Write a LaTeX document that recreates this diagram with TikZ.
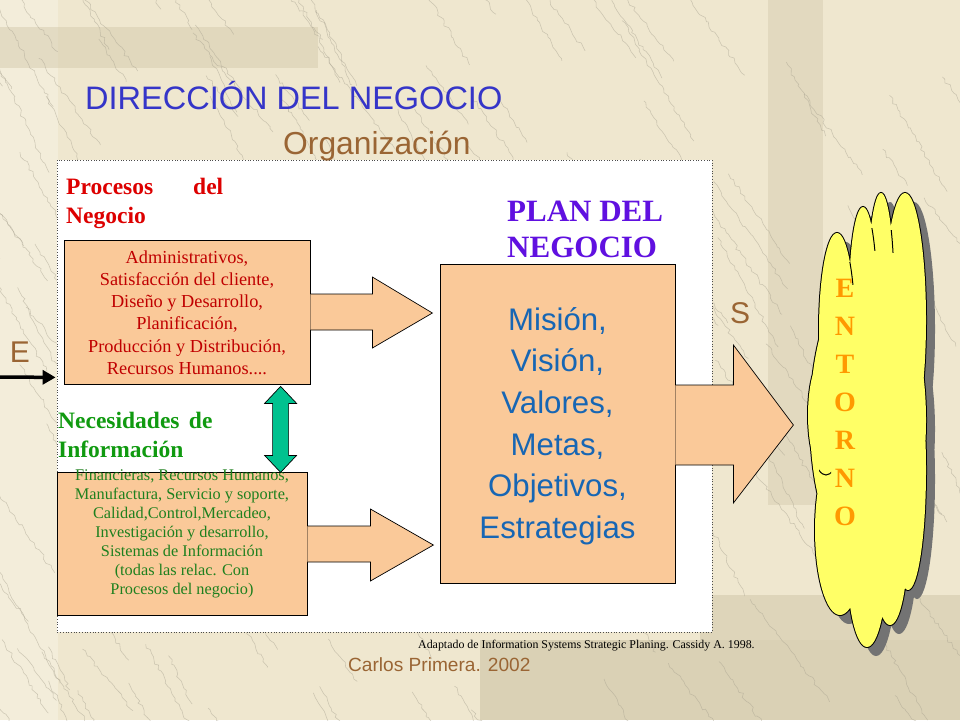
\documentclass[tikz,border=0pt]{standalone}
\usepackage{fontspec}
\setmainfont{Liberation Serif}
\newfontfamily\sansf{Liberation Sans}
\usetikzlibrary{calc,arrows.meta,decorations.pathmorphing}
\definecolor{bgbeige}{HTML}{EFE7CF}
\definecolor{bgdark}{HTML}{D4CAAD}
\definecolor{bglight}{HTML}{F5F0DF}
\definecolor{titleblue}{HTML}{3535C8}
\definecolor{brownt}{HTML}{9A6534}
\definecolor{procred}{HTML}{DD0000}
\definecolor{boxred}{HTML}{C00000}
\definecolor{needgreen}{HTML}{109A10}
\definecolor{boxgreen}{HTML}{1E801E}
\definecolor{planpurple}{HTML}{6010E0}
\definecolor{planblue}{HTML}{1766B4}
\definecolor{peach}{HTML}{FAC999}
\definecolor{teal}{HTML}{00C28F}
\definecolor{cloudy}{HTML}{FFFF66}
\definecolor{orangeE}{HTML}{FF9900}
\definecolor{crackc}{HTML}{A8A290}
\tikzset{
  pbox/.style={draw=black, line width=0.8pt, fill=peach, inner sep=0pt},
  parrow/.style={draw=black, line width=0.7pt, fill=peach},
  lbl/.style={inner sep=0pt},
  cloudline/.style={black, line width=1pt},
  crack/.style={crackc, opacity=0.5, line width=0.55pt, decorate, decoration={random steps, segment length=4pt, amplitude=1.8pt}},
}
\begin{document}
\begin{tikzpicture}[x=1pt,y=-1pt]
\useasboundingbox (0,0) rectangle (960,720);
% background
\fill[bgbeige] (0,0) rectangle (960,720);
\fill[bglight,opacity=0.7] (0,0) rectangle (58,720);
\fill[bgdark,opacity=0.5] (0,27) rectangle (318,68);
\fill[bgdark,opacity=0.45] (768,0) rectangle (823,505);
\fill[bgdark,opacity=0.6] (700,595) rectangle (960,640);
\fill[bgdark,opacity=0.75] (480,640) rectangle (960,720);
\pgfmathsetseed{11}
\foreach \k in {1,...,190}{
  \pgfmathsetmacro\sx{rnd*1100-120}
  \pgfmathsetmacro\sy{rnd*780-60}
  \pgfmathsetmacro\ln{40+rnd*110}
  \pgfmathsetmacro\ang{-50-rnd*15}
  \draw[crack] (\sx,\sy) -- ++(\ang:\ln pt);
}
% panel
\fill[white] (57,160) rectangle (712,632);
\draw[gray!60!black, dotted, line width=0.7pt] (57,160) rectangle (712,632);
% titles
\node[lbl, anchor=base west, text=titleblue, font=\sansf\fontsize{32.5}{38}\selectfont] (title) at (85,109) {DIRECCIÓN DEL NEGOCIO};
\node[lbl, anchor=base west, text=brownt, font=\sansf\fontsize{31.8}{38}\selectfont] (org) at (283,154) {Organización};
% headings
\node[lbl, anchor=north west, align=left, text=procred, font=\bfseries\fontsize{23.5}{29}\selectfont] (proc) at (66,178) {\makebox[127pt][l]{Procesos}del\\Negocio};
\node[lbl, anchor=west, align=left, text=needgreen, font=\bfseries\fontsize{23.5}{29}\selectfont] (need) at (58,435) {Necesidades\hspace{0.4em}de\\Información};
\node[lbl, anchor=west, align=left, text=planpurple, font=\bfseries\fontsize{31}{36}\selectfont] (plantitle) at (507,229) {PLAN DEL\\NEGOCIO};
% boxes
\node[pbox, minimum width=246pt, minimum height=144pt] (box1) at (187,312) {};
\node[lbl, align=center, text=boxred, font=\fontsize{18.3}{22.2}\selectfont] (t1) at (187,312.5) {Administrativos,\\Satisfacción del cliente,\\Diseño y Desarrollo,\\Planificación,\\Producción y Distribución,\\Recursos Humanos....};
\node[pbox, minimum width=250pt, minimum height=143pt] (box2) at (182,543.5) {};
\node[lbl, align=center, text=boxgreen, font=\fontsize{16.3}{19}\selectfont] (t2) at (182,534) {Financieras, Recursos Humanos,\\Manufactura, Servicio y soporte,\\Calidad,Control,Mercadeo,\\Investigación y desarrollo,\\Sistemas de Información\\(todas las relac. Con\\Procesos del negocio)};
\node[pbox, minimum width=235pt, minimum height=319pt] (plan) at (557.5,423.5) {};
\node[lbl, align=center, text=planblue, font=\sansf\fontsize{31.2}{41.6}\selectfont] (t3) at (557.5,426) {Misión,\\Visión,\\Valores,\\Metas,\\Objetivos,\\Estrategias};
% arrows
\filldraw[parrow] ($(box1.east)+(0,-18)$) -- ++(62,0) -- ++(0,-17) -- ++(60,36) -- ++(-60,35) -- ++(0,-18) -- ++(-62,0);
\filldraw[parrow] ($(box2.east)+(0,-17.5)$) -- ++(63,0) -- ++(0,-17) -- ++(63,36) -- ++(-63,36) -- ++(0,-19) -- ++(-63,0);
\filldraw[parrow] ($(plan.east)+(0,-38.5)$) -- ++(58,0) -- ++(0,-40) -- ++(60,80) -- ++(-60,78) -- ++(0,-38) -- ++(-58,0);
\coordinate (dt) at ($(box1.south west)+(217,2)$);
\filldraw[draw=black, line width=0.7pt, fill=teal] (dt) -- ++(16,17) -- ++(-8,0) -- ++(0,52) -- ++(8,0) -- ++(-16,17) -- ++(-16,-17) -- ++(8,0) -- ++(0,-52) -- ++(-8,0) -- cycle;
% E arrow
\coordinate (estart) at (0,377);
\draw[line width=3.5pt, -{Triangle[length=13pt,width=14pt]}] (estart) -- ($(box1.south west)+(-8,-7)$);
\node[lbl, text=brownt, font=\sansf\fontsize{30}{36}\selectfont] (elbl) at (20,352) {E};
\node[lbl, text=brownt, font=\sansf\fontsize{30}{36}\selectfont] (slbl) at (740,313) {S};
% cloud
\def\cloudshape{
  (837,330) ellipse [x radius=18pt, y radius=97pt]
  (863,300) ellipse [x radius=14pt, y radius=93pt]
  (881,290) ellipse [x radius=13pt, y radius=97pt]
  (905,320) ellipse [x radius=21pt, y radius=127pt]
  (868,420) ellipse [x radius=58pt, y radius=150pt]
  (826,415) ellipse [x radius=18pt, y radius=60pt]
  (840,530) ellipse [x radius=25pt, y radius=85pt]
  (867,560) ellipse [x radius=20pt, y radius=87pt]
  (890,540) ellipse [x radius=18pt, y radius=85pt]
  (908,470) ellipse [x radius=18pt, y radius=120pt]
}
\begin{scope}[shift={(9,9)}]
\fill[gray!90!black] \cloudshape;
\end{scope}
\draw[black, line width=2pt] \cloudshape;
\fill[cloudy] \cloudshape;
% short inner lobe lines
\begin{scope}
\clip (843,262) rectangle (857,284);
\draw[cloudline] (837,330) ellipse [x radius=18pt, y radius=97pt];
\end{scope}
\begin{scope}
\clip (866,228) rectangle (880,250);
\draw[cloudline] (863,300) ellipse [x radius=14pt, y radius=93pt];
\end{scope}
\begin{scope}
\clip (884,230) rectangle (898,252);
\draw[cloudline] (881,290) ellipse [x radius=13pt, y radius=97pt];
\end{scope}
\begin{scope}
\clip (819,462) rectangle (831,478);
\draw[cloudline] (826,415) ellipse [x radius=18pt, y radius=60pt];
\end{scope}
\node[lbl, align=center, text=orangeE, font=\bfseries\fontsize{28}{38}\selectfont] (entorno) at (845,402) {E\\N\\T\\O\\R\\N\\O};
% footer
\node[lbl, anchor=west, font=\fontsize{11.9}{13}\selectfont] (src) at (418,646) {Adaptado de Information Systems Strategic Planing. Cassidy A. 1998.};
\node[lbl, anchor=west, text=brownt, font=\sansf\fontsize{19.1}{22}\selectfont] (author) at (348,665) {Carlos Primera. 2002};
\end{tikzpicture}
\end{document}
